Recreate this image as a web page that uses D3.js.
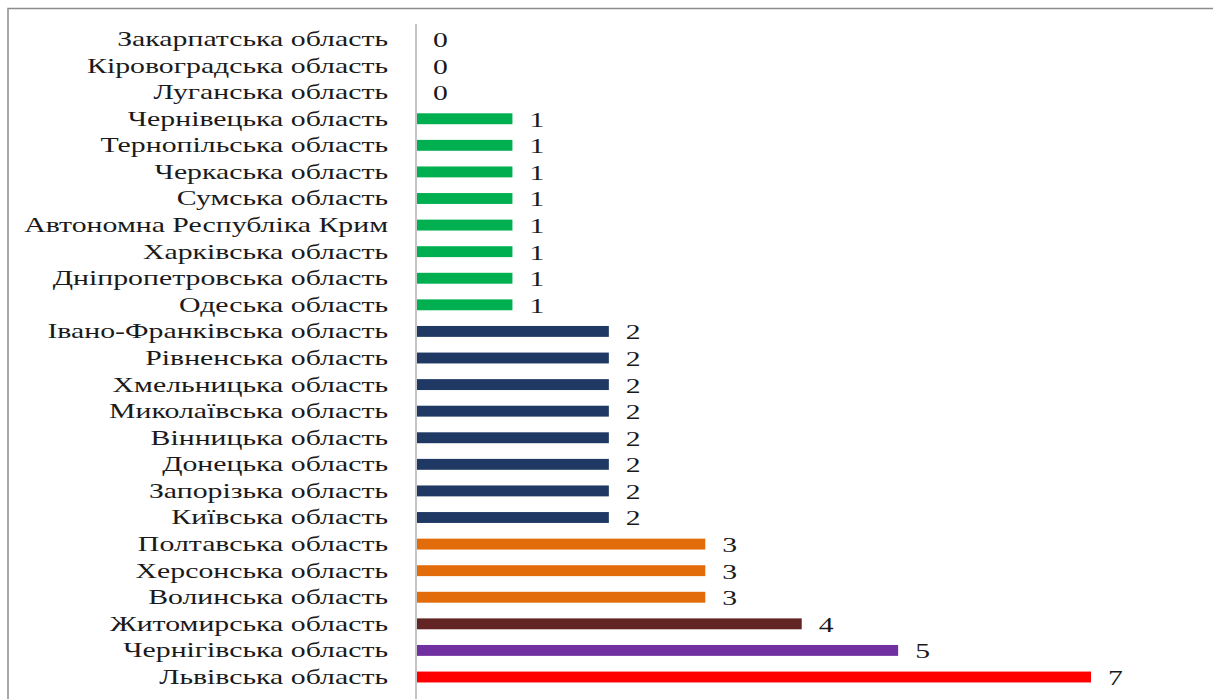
<!DOCTYPE html>
<html><head><meta charset="utf-8">
<script src="https://cdn.jsdelivr.net/npm/d3@7"></script>
<style>body{margin:0;background:#fff}svg{display:block}
text{font-family:"Liberation Serif","Times New Roman","DejaVu Serif",serif;}</style>
</head><body>
<svg id="c" width="1213" height="699"></svg>
<script>
const regions = ["Закарпатська область","Кіровоградська область","Луганська область","Чернівецька область","Тернопільська область","Черкаська область","Сумська область","Автономна Республіка Крим","Харківська область","Дніпропетровська область","Одеська область","Івано-Франківська область","Рівненська область","Хмельницька область","Миколаївська область","Вінницька область","Донецька область","Запорізька область","Київська область","Полтавська область","Херсонська область","Волинська область","Житомирська область","Чернігівська область","Львівська область"];
const counts = [0,0,0,1,1,1,1,1,1,1,1,2,2,2,2,2,2,2,2,3,3,3,4,5,7];

const colorByValue = {1:"#00B050",2:"#1F3864",3:"#E36C0A",4:"#632523",5:"#7030A0",7:"#FF0000"};

const svg = d3.select("#c");
svg.append("rect").attr("x",8).attr("y",8.5).attr("width",1220).attr("height",710)
  .attr("fill","none").attr("stroke","#8c8c8c").attr("stroke-width",1.5);

const x = d3.scaleLinear().domain([0,7]).range([416,1091]);
const y = d3.scaleBand().domain(regions).range([25.7,690.3]).paddingInner(0.59).paddingOuter(0.295);

svg.append("line").attr("x1",416).attr("x2",416).attr("y1",24).attr("y2",699)
  .attr("stroke","#8c8c8c").attr("stroke-width",1);

svg.selectAll("rect.bar").data(regions).join("rect").attr("class","bar")
  .attr("x",x(0)+1).attr("y",d=>y(d))
  .attr("width",(d,i)=>Math.max(0,x(counts[i])-x(0)-1))
  .attr("height",y.bandwidth())
  .attr("fill",(d,i)=>colorByValue[counts[i]]||"none");

const sx = 1.42;
svg.selectAll("text.cat").data(regions).join("text").attr("class","cat")
  .attr("transform",d=>`translate(388,${y(d)+y.bandwidth()/2}) scale(${sx},1)`)
  .attr("dy","0.33em")
  .attr("text-anchor","end")
  .attr("font-size",21).attr("fill","#1a1a1a").text(d=>d);

svg.selectAll("text.val").data(regions).join("text").attr("class","val")
  .attr("transform",(d,i)=>`translate(${x(counts[i])+17},${y(d)+y.bandwidth()/2}) scale(1.35,1)`)
  .attr("dy","0.36em")
  .attr("font-size",22)
  .attr("fill","#1a1a1a").text((d,i)=>counts[i]);
</script>
</body></html>
